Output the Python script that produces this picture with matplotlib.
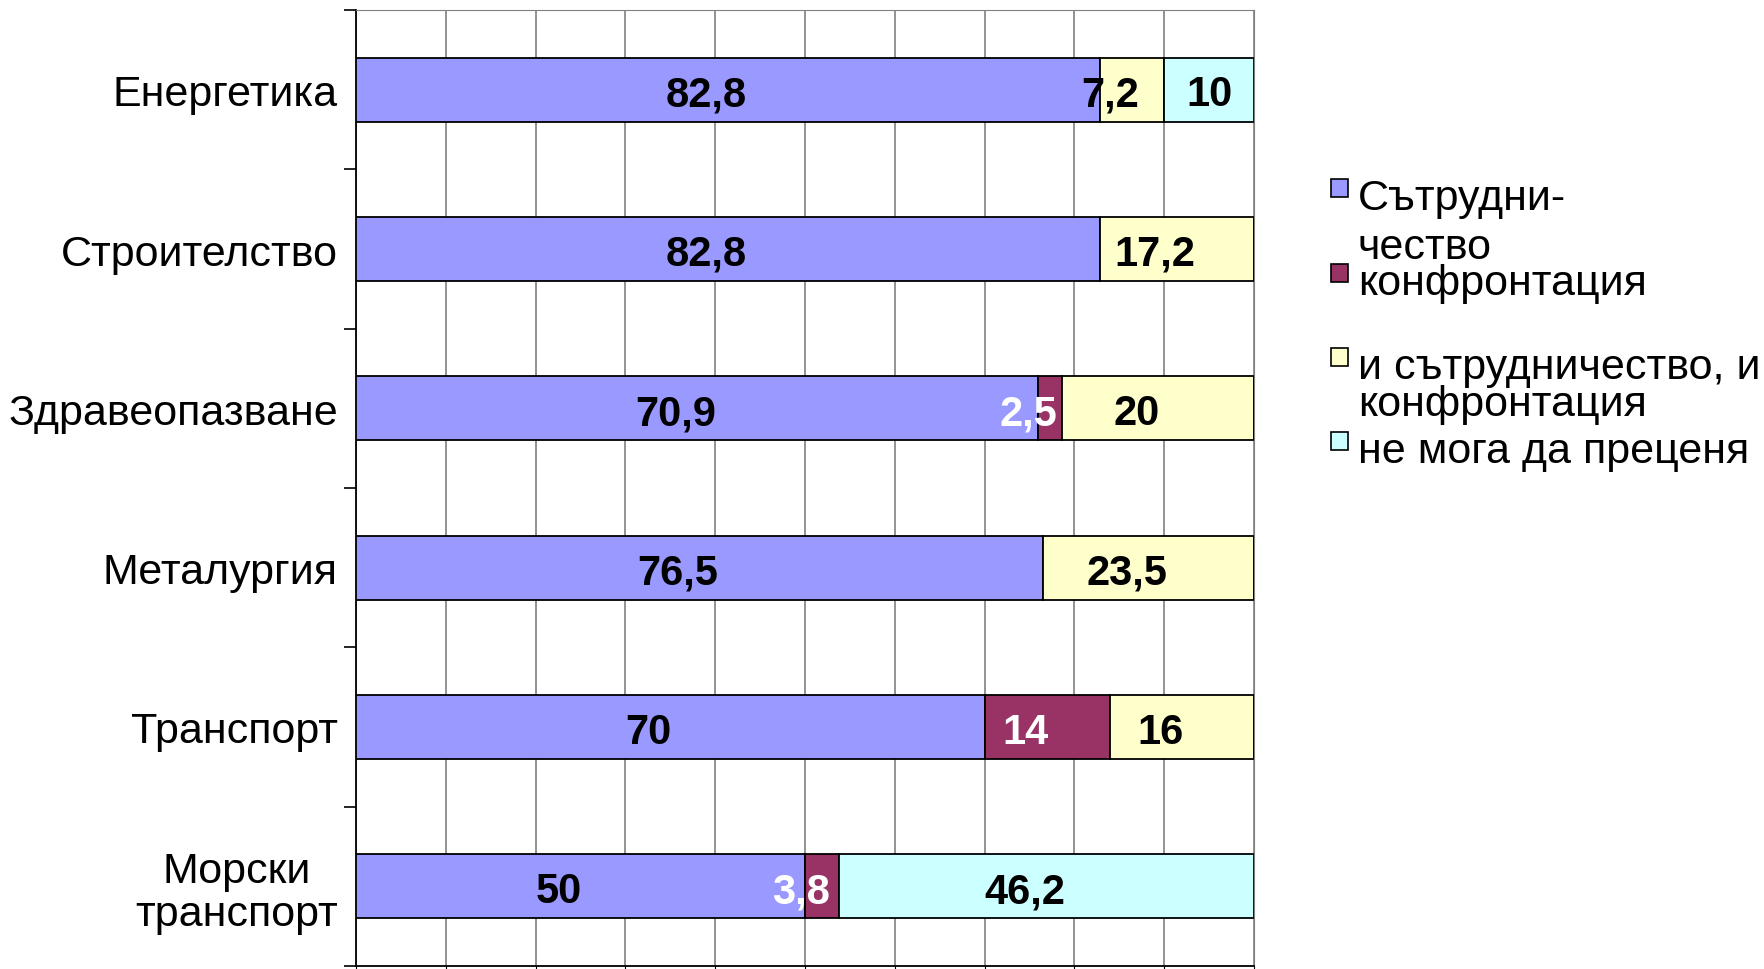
import numpy as np
import matplotlib
matplotlib.use("Agg")
import matplotlib.pyplot as plt
from matplotlib.patches import Rectangle

plt.rcParams['font.family'] = ['Liberation Sans', 'DejaVu Sans']

categories = ["Енергетика", "Строителство", "Здравеопазване", "Металургия",
              "Транспорт", "Морски\nтранспорт"]
series = ["Сътрудни-\nчество", "конфронтация", "и сътрудничество, и\nконфронтация",
          "не мога да преценя"]
cooperation = [82.8, 82.8, 70.9, 76.5, 70, 50]
confrontation = [0, 0, 2.5, 0, 14, 3.8]
both = [7.2, 17.2, 20, 23.5, 16, 0]
cannot_say = [10, 0, 0, 0, 0, 46.2]

colors = ["#9999FF", "#993366", "#FFFFCC", "#CCFFFF"]
text_colors = ["black", "white", "black", "black"]

values = np.array([cooperation, confrontation, both, cannot_say])
shares = values / values.sum(axis=0) * 100  # 100% stacked bars

W, H = 1764, 970
fig = plt.figure(figsize=(W / 100, H / 100), dpi=100)
ax = fig.add_axes([356 / W, 1 - 967 / H, (1254 - 356) / W, (967 - 11) / H])

y = np.arange(len(categories))
left = np.zeros(len(categories))
for k in range(len(series)):
    ax.barh(y, shares[k], left=left, height=0.4, color=colors[k],
            edgecolor="black", linewidth=1.3, zorder=3)
    for i in range(len(categories)):
        if values[k, i] > 0:
            lbl = ("%g" % values[k, i]).replace(".", ",")
            # labels sit a little left of the segment centre, as in the original
            shift = 0 if k == 3 and shares[k, i] < 15 else -2.4
            ax.text(left[i] + shares[k, i] / 2 + shift, y[i] + 0.03, lbl,
                    ha="center", va="center", fontsize=30, fontweight="bold",
                    color=text_colors[k], zorder=5)
    left += shares[k]

ax.set_xlim(0, 100)
ax.set_ylim(len(categories) - 0.5, -0.5)
ax.set_xticks(np.arange(0, 101, 10))
ax.set_xticklabels([])
ax.tick_params(axis="x", length=4, color="black")
ax.grid(axis="x", color="#808080", linewidth=1.2, zorder=0)

ax.set_yticks(np.arange(-0.5, len(categories), 1))
ax.set_yticklabels([])
ax.tick_params(axis="y", which="major", length=9, color="black", width=1.2)
ax.set_yticks(y, minor=True)
ax.set_yticklabels(categories, minor=True, fontsize=31)
ax.tick_params(axis="y", which="minor", length=0, pad=13)
for t in ax.get_yticklabels(minor=True):
    t.set_multialignment("center")
    t.set_linespacing(1.1)

ax.spines["left"].set_color("black")
ax.spines["left"].set_linewidth(1.3)
ax.spines["bottom"].set_color("black")
ax.spines["bottom"].set_linewidth(1.3)
ax.spines["top"].set_color("#808080")
ax.spines["right"].set_color("#808080")

# legend drawn by hand to keep the overlapping entry layout
patch_y = [189, 274, 358, 442]
line_gaps = [49, 0, 37, 0]
for k, name in enumerate(series):
    fig.patches.append(Rectangle((1331 / W, 1 - (patch_y[k] + 9) / H), 17 / W, 18 / H,
                                 transform=fig.transFigure, facecolor=colors[k],
                                 edgecolor="black", linewidth=1.2))
    for j, line in enumerate(name.split("\n")):
        fig.text(1358 / W, 1 - (patch_y[k] + 10 + j * line_gaps[k]) / H, line,
                 ha="left", va="center", fontsize=31)

fig.savefig("out.png", dpi=100)
